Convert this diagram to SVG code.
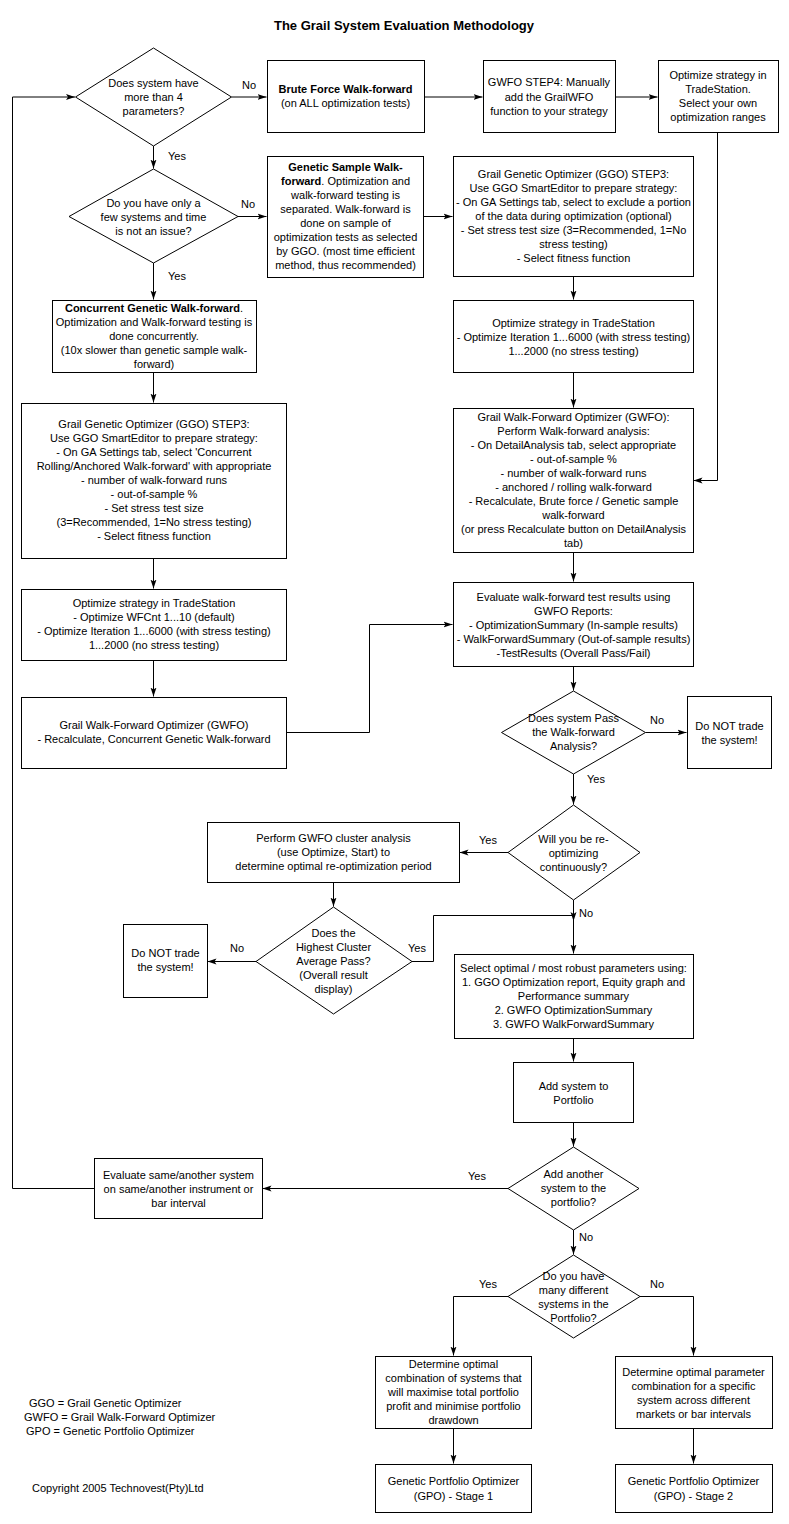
<svg xmlns="http://www.w3.org/2000/svg" width="789" height="1524" viewBox="0 0 789 1524">
<style>
.box{fill:#fff;stroke:#000;stroke-width:1}
.c{fill:none;stroke:#000;stroke-width:1}
.a{marker-end:url(#arr)}
text{font-family:"Liberation Sans",Arial,sans-serif;font-size:11px;fill:#000}
.t{text-anchor:middle}
.b{font-weight:bold}
.title{font-size:13px;font-weight:bold;text-anchor:middle}
</style>
<defs>
<marker id="arr" markerUnits="userSpaceOnUse" markerWidth="10" markerHeight="8" refX="9" refY="3.5" orient="auto">
<path d="M0,0.5 L9,3.5 L0,6.5 L2,3.5 z" fill="#000"/>
</marker>
</defs>
<rect width="789" height="1524" fill="#fff"/>
<text class="title" x="404" y="30">The Grail System Evaluation Methodology</text>

<g id="connectors">
<path class="c a" d="M231.5,97 H266.5"/>
<path class="c a" d="M424.5,97 H482.5"/>
<path class="c a" d="M615.5,97 H657.5"/>
<path class="c a" d="M717.5,132.5 V480.5 H693.5"/>
<path class="c a" d="M153.5,146 V168.5"/>
<path class="c a" d="M238,216.5 H266.5"/>
<path class="c a" d="M423.5,216.5 H452.5"/>
<path class="c a" d="M573.5,276.5 V299.5"/>
<path class="c a" d="M573.5,372.5 V407.5"/>
<path class="c a" d="M573.5,552.5 V581.5"/>
<path class="c a" d="M573.5,666.5 V690.5"/>
<path class="c a" d="M645.5,732.5 H686.5"/>
<path class="c a" d="M573.5,774 V804.5"/>
<path class="c a" d="M508,852.5 H459.5"/>
<path class="c a" d="M333.5,882.5 V906.5"/>
<path class="c a" d="M256,961.5 H207.5"/>
<path class="c a" d="M573.5,900 V921"/>
<path class="c a" d="M412,961.5 H433.5 V915.5 H573.5 V953.5"/>
<path class="c a" d="M573.5,1038.5 V1061.5"/>
<path class="c a" d="M573.5,1122.5 V1146.5"/>
<path class="c a" d="M508,1188.5 H262.5"/>
<path class="c a" d="M94.5,1188.5 H12.5 V97 H75"/>
<path class="c a" d="M573.5,1230 V1254.5"/>
<path class="c a" d="M508,1296.5 H453.5 V1355.5"/>
<path class="c a" d="M640,1296.5 H693.5 V1355.5"/>
<path class="c a" d="M453.5,1428.5 V1463.5"/>
<path class="c a" d="M693.5,1428.5 V1463.5"/>
<path class="c a" d="M286.5,732.5 H369.5 V624.5 H452.5"/>
<path class="c a" d="M153.5,263 V299.5"/>
<path class="c a" d="M153.5,372.5 V402.5"/>
<path class="c a" d="M153.5,558.5 V588.5"/>
<path class="c a" d="M153.5,660.5 V696.5"/>
</g>

<g id="labels">
<text class="t" x="249" y="89">No</text>
<text class="t" x="177" y="160">Yes</text>
<text class="t" x="248" y="208">No</text>
<text class="t" x="177" y="280">Yes</text>
<text class="t" x="657" y="724">No</text>
<text class="t" x="596" y="783">Yes</text>
<text class="t" x="488" y="844">Yes</text>
<text class="t" x="237" y="952">No</text>
<text class="t" x="417" y="952">Yes</text>
<text class="t" x="586" y="917">No</text>
<text class="t" x="477" y="1180">Yes</text>
<text class="t" x="586" y="1241">No</text>
<text class="t" x="488" y="1288">Yes</text>
<text class="t" x="657" y="1288">No</text>
</g>

<g id="d1">
<polygon class="box" points="153.5,48 231.5,97 153.5,146 75.5,97"/>
<text class="t" x="153.5" y="87">Does system have</text>
<text class="t" x="153.5" y="101">more than 4</text>
<text class="t" x="153.5" y="115">parameters?</text>
</g>
<g id="brute">
<rect class="box" x="267.5" y="60.5" width="157" height="72"/>
<text class="t b" x="345.5" y="93">Brute Force Walk-forward</text>
<text class="t" x="345.5" y="107">(on ALL optimization tests)</text>
</g>
<g id="gwfo4">
<rect class="box" x="483.5" y="60.5" width="132" height="72"/>
<text class="t" x="549" y="86">GWFO STEP4: Manually</text>
<text class="t" x="549" y="101">add the GrailWFO</text>
<text class="t" x="549" y="115">function to your strategy</text>
</g>
<g id="opt4">
<rect class="box" x="658.5" y="60.5" width="120" height="72"/>
<text class="t" x="718" y="79">Optimize strategy in</text>
<text class="t" x="718" y="93">TradeStation.</text>
<text class="t" x="718" y="107">Select your own</text>
<text class="t" x="718" y="121">optimization ranges</text>
</g>
<g id="d2">
<polygon class="box" points="153.5,169 238,216.5 153.5,263 69,216.5"/>
<text class="t" x="153.5" y="207">Do you have only a</text>
<text class="t" x="153.5" y="221">few systems and time</text>
<text class="t" x="153.5" y="235">is not an issue?</text>
</g>
<g id="gensample">
<rect class="box" x="267.5" y="156.5" width="156" height="121"/>
<text class="t b" x="345.5" y="171">Genetic Sample Walk-</text>
<text class="t" x="345.5" y="185"><tspan class="b">forward</tspan>. Optimization and</text>
<text class="t" x="345.5" y="199">walk-forward testing is</text>
<text class="t" x="345.5" y="213">separated.  Walk-forward is</text>
<text class="t" x="345.5" y="227">done on sample of</text>
<text class="t" x="345.5" y="241">optimization tests as selected</text>
<text class="t" x="345.5" y="255">by GGO. (most time efficient</text>
<text class="t" x="345.5" y="269">method, thus recommended)</text>
</g>
<g id="ggoR">
<rect class="box" x="453.5" y="156.5" width="240" height="120"/>
<text class="t" x="573.5" y="178">Grail Genetic Optimizer (GGO) STEP3:</text>
<text class="t" x="573.5" y="192">Use GGO SmartEditor to prepare strategy:</text>
<text class="t" x="573.5" y="206">- On GA Settings tab, select to exclude a portion</text>
<text class="t" x="573.5" y="220">of the data during optimization (optional)</text>
<text class="t" x="573.5" y="234">- Set stress test size (3=Recommended, 1=No</text>
<text class="t" x="573.5" y="248">stress testing)</text>
<text class="t" x="573.5" y="262">- Select fitness function</text>
</g>
<g id="optR">
<rect class="box" x="453.5" y="300.5" width="240" height="72"/>
<text class="t" x="573.5" y="327">Optimize strategy in TradeStation</text>
<text class="t" x="573.5" y="341">- Optimize Iteration 1...6000 (with stress testing)</text>
<text class="t" x="573.5" y="355">1...2000 (no stress testing)</text>
</g>
<g id="concurrent">
<rect class="box" x="52.5" y="300.5" width="204" height="72"/>
<text class="t" x="154" y="312"><tspan class="b">Concurrent Genetic Walk-forward</tspan>.</text>
<text class="t" x="154" y="326">Optimization and Walk-forward testing is</text>
<text class="t" x="154" y="340">done concurrently.</text>
<text class="t" x="154" y="354">(10x slower than genetic sample walk-</text>
<text class="t" x="154" y="368">forward)</text>
</g>
<g id="ggoL">
<rect class="box" x="21.5" y="403.5" width="265" height="155"/>
<text class="t" x="154" y="428">Grail Genetic Optimizer (GGO) STEP3:</text>
<text class="t" x="154" y="442">Use GGO SmartEditor to prepare strategy:</text>
<text class="t" x="154" y="456">- On GA Settings tab, select 'Concurrent</text>
<text class="t" x="154" y="470">Rolling/Anchored Walk-forward' with appropriate</text>
<text class="t" x="154" y="484">- number of walk-forward runs</text>
<text class="t" x="154" y="498">- out-of-sample %</text>
<text class="t" x="154" y="512">- Set stress test size</text>
<text class="t" x="154" y="526">(3=Recommended, 1=No stress testing)</text>
<text class="t" x="154" y="540">- Select fitness function</text>
</g>
<g id="optL">
<rect class="box" x="21.5" y="589.5" width="265" height="71"/>
<text class="t" x="154" y="607">Optimize strategy in TradeStation</text>
<text class="t" x="154" y="621">- Optimize WFCnt 1...10 (default)</text>
<text class="t" x="154" y="635">- Optimize Iteration 1...6000 (with stress testing)</text>
<text class="t" x="154" y="649">1...2000 (no stress testing)</text>
</g>
<g id="gwfoL">
<rect class="box" x="21.5" y="697.5" width="265" height="71"/>
<text class="t" x="154" y="729">Grail Walk-Forward Optimizer (GWFO)</text>
<text class="t" x="154" y="743">- Recalculate, Concurrent Genetic Walk-forward</text>
</g>
<g id="gwfoR">
<rect class="box" x="453.5" y="408.5" width="240" height="144"/>
<text class="t" x="573.5" y="421">Grail Walk-Forward Optimizer (GWFO):</text>
<text class="t" x="573.5" y="435">Perform Walk-forward analysis:</text>
<text class="t" x="573.5" y="449">- On DetailAnalysis tab, select appropriate</text>
<text class="t" x="573.5" y="463">- out-of-sample %</text>
<text class="t" x="573.5" y="477">- number of walk-forward runs</text>
<text class="t" x="573.5" y="491">- anchored / rolling walk-forward</text>
<text class="t" x="573.5" y="505">- Recalculate, Brute force / Genetic sample</text>
<text class="t" x="573.5" y="519">walk-forward</text>
<text class="t" x="573.5" y="533">(or press Recalculate button on DetailAnalysis</text>
<text class="t" x="573.5" y="547">tab)</text>
</g>
<g id="evalR">
<rect class="box" x="453.5" y="582.5" width="240" height="84"/>
<text class="t" x="573.5" y="601">Evaluate walk-forward test results using</text>
<text class="t" x="573.5" y="615">GWFO Reports:</text>
<text class="t" x="573.5" y="629">- OptimizationSummary (In-sample results)</text>
<text class="t" x="573.5" y="643">- WalkForwardSummary (Out-of-sample results)</text>
<text class="t" x="573.5" y="657">-TestResults (Overall Pass/Fail)</text>
</g>
<g id="d3">
<polygon class="box" points="573.5,691 645.5,732.5 573.5,774 501.5,732.5"/>
<text class="t" x="573.5" y="722">Does system Pass</text>
<text class="t" x="573.5" y="736">the Walk-forward</text>
<text class="t" x="573.5" y="750">Analysis?</text>
</g>
<g id="donotR">
<rect class="box" x="687.5" y="696.5" width="84" height="72"/>
<text class="t" x="729.5" y="730">Do NOT trade</text>
<text class="t" x="729.5" y="744">the system!</text>
</g>
<g id="d4">
<polygon class="box" points="573.5,805 640,852.5 573.5,900 508,852.5"/>
<text class="t" x="573.5" y="843">Will you be re-</text>
<text class="t" x="573.5" y="857">optimizing</text>
<text class="t" x="573.5" y="871">continuously?</text>
</g>
<g id="cluster">
<rect class="box" x="207.5" y="822.5" width="252" height="60"/>
<text class="t" x="333.5" y="842">Perform GWFO cluster analysis</text>
<text class="t" x="333.5" y="856">(use Optimize, Start)  to</text>
<text class="t" x="333.5" y="870">determine optimal re-optimization period</text>
</g>
<g id="d5">
<polygon class="box" points="333.5,907 412,961.5 333.5,1014 256,961.5"/>
<text class="t" x="333.5" y="937">Does the</text>
<text class="t" x="333.5" y="951">Highest Cluster</text>
<text class="t" x="333.5" y="965">Average Pass?</text>
<text class="t" x="333.5" y="979">(Overall result</text>
<text class="t" x="333.5" y="993">display)</text>
</g>
<g id="donotL">
<rect class="box" x="123.5" y="924.5" width="84" height="73"/>
<text class="t" x="165.5" y="957">Do NOT trade</text>
<text class="t" x="165.5" y="971">the system!</text>
</g>
<g id="select">
<rect class="box" x="454.5" y="954.5" width="239" height="84"/>
<text class="t" x="573.5" y="972">Select optimal / most robust parameters using:</text>
<text class="t" x="573.5" y="986">1. GGO Optimization report, Equity graph and</text>
<text class="t" x="573.5" y="1000">Performance summary</text>
<text class="t" x="573.5" y="1014">2. GWFO OptimizationSummary</text>
<text class="t" x="573.5" y="1028">3. GWFO WalkForwardSummary</text>
</g>
<g id="add">
<rect class="box" x="513.5" y="1062.5" width="120" height="60"/>
<text class="t" x="573.5" y="1090">Add system to</text>
<text class="t" x="573.5" y="1104">Portfolio</text>
</g>
<g id="d6">
<polygon class="box" points="573.5,1147 639,1188.5 573.5,1230 508,1188.5"/>
<text class="t" x="573.5" y="1178">Add another</text>
<text class="t" x="573.5" y="1192">system to the</text>
<text class="t" x="573.5" y="1206">portfolio?</text>
</g>
<g id="evalL">
<rect class="box" x="94.5" y="1158.5" width="168" height="60"/>
<text class="t" x="178.5" y="1179">Evaluate same/another system</text>
<text class="t" x="178.5" y="1193">on same/another instrument or</text>
<text class="t" x="178.5" y="1207">bar interval</text>
</g>
<g id="d7">
<polygon class="box" points="573.5,1255 640,1296.5 573.5,1338 508,1296.5"/>
<text class="t" x="573.5" y="1280">Do you have</text>
<text class="t" x="573.5" y="1294">many different</text>
<text class="t" x="573.5" y="1308">systems in the</text>
<text class="t" x="573.5" y="1322">Portfolio?</text>
</g>
<g id="det1">
<rect class="box" x="375.5" y="1356.5" width="156" height="72"/>
<text class="t" x="453.5" y="1368">Determine optimal</text>
<text class="t" x="453.5" y="1382">combination of systems that</text>
<text class="t" x="453.5" y="1396">will maximise total portfolio</text>
<text class="t" x="453.5" y="1410">profit and minimise portfolio</text>
<text class="t" x="453.5" y="1424">drawdown</text>
</g>
<g id="det2">
<rect class="box" x="615.5" y="1356.5" width="157" height="72"/>
<text class="t" x="693.5" y="1376">Determine optimal parameter</text>
<text class="t" x="693.5" y="1390">combination for a specific</text>
<text class="t" x="693.5" y="1404">system across different</text>
<text class="t" x="693.5" y="1418">markets or bar intervals</text>
</g>
<g id="stage1">
<rect class="box" x="375.5" y="1464.5" width="156" height="48"/>
<text class="t" x="453.5" y="1485">Genetic Portfolio Optimizer</text>
<text class="t" x="453.5" y="1500">(GPO) - Stage 1</text>
</g>
<g id="stage2">
<rect class="box" x="615.5" y="1464.5" width="157" height="48"/>
<text class="t" x="693.5" y="1485">Genetic Portfolio Optimizer</text>
<text class="t" x="693.5" y="1500">(GPO) - Stage 2</text>
</g>
<g id="legend">
<text x="29" y="1407">GGO = Grail Genetic Optimizer</text>
<text x="24" y="1421">GWFO = Grail Walk-Forward Optimizer</text>
<text x="26" y="1435">GPO = Genetic Portfolio Optimizer</text>
<text x="32" y="1492">Copyright 2005 Technovest(Pty)Ltd</text>
</g>
</svg>
